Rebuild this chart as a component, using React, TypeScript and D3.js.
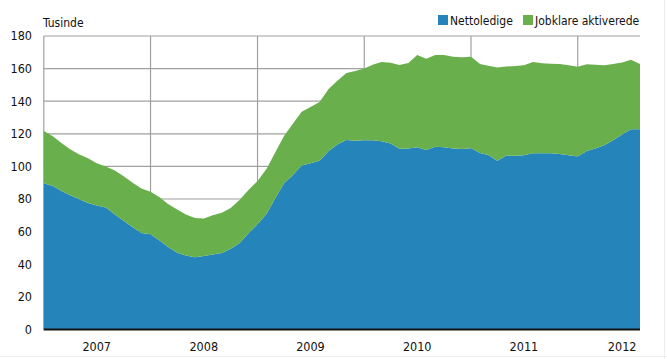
import React from "react";
import * as d3 from "d3";

const nettoledige = [
  89.6, 88, 85, 82.3, 80, 77.5, 76, 74.8, 70.5, 66.6, 62.7, 59.2,
  58.3, 54.5, 50.5, 47, 45.3, 44.2, 45, 46, 46.8, 49.5, 53, 59,
  64.5, 71, 80, 89.5, 94.5, 100.5, 102, 103.5, 109.5, 113.5, 116.2, 115.8,
  116, 116, 115.5, 114, 110.8, 111, 111.8, 110, 112, 111.7, 111, 110.6,
  111.2, 108.2, 107, 103.5, 106.6, 106.5, 106.8, 108, 108, 108, 107.6, 106.8,
  106, 109.4, 111, 113, 116, 119.5, 122.8, 122.8,
];

const total = [
  121.7, 118.5, 114.5, 110.5, 107.5, 105, 102, 100, 97.5, 94, 90, 86.5,
  84.5, 81, 77, 73.5, 70.5, 68.3, 68, 70, 71.5, 74.5, 79.5, 85.5,
  91, 98.5, 108, 118.5, 126, 133.5, 136.5, 139.5, 147.5, 152.5, 157.3, 158.5,
  160, 162.5, 164, 163.6, 162.2, 163.5, 168.3, 166.1, 168.3, 168.3, 167.3, 167,
  167.3, 162.8, 161.8, 160.7, 161.3, 161.6, 162, 164, 163.3, 163, 162.8, 162,
  161.2, 162.6, 162.3, 162, 162.8, 163.8, 165.5, 162.8,
];

const jobklare = total.map((t, i) => +(t - nettoledige[i]).toFixed(1));

const months = d3.timeMonth.range(new Date(2007, 0, 1), new Date(2007, 0 + nettoledige.length, 1));

const yTicks = [0, 20, 40, 60, 80, 100, 120, 140, 160, 180];
const yearGrid = [2008, 2009, 2010, 2011, 2012];
const yearLabels = ["2007", "2008", "2009", "2010", "2011", "2012"];
const yearLabelMonths = [6, 6, 6, 6, 6, 5];

const seriesNames = ["Nettoledige", "Jobklare aktiverede"];
const colors = ["#2584BA", "#69B04C"];

const W = 667;
const H = 359;
const left = 43.8;
const right = 640;
const top = 36;
const bottom = 329.4;
const FONT = "'DejaVu Sans Condensed', 'Liberation Sans Narrow', sans-serif";

export default function App() {
  const x = d3.scaleTime().domain([months[0], months[months.length - 1]]).range([left, right]);
  const y = d3.scaleLinear().domain([0, 180]).range([bottom, top]);

  const rows = months.map((m, i) => ({ date: m, a: nettoledige[i], b: jobklare[i] }));
  const stack = d3.stack<any>().keys(["a", "b"]);
  const stacked = stack(rows);
  const area = d3
    .area<any>()
    .x((d) => x(d.data.date))
    .y0((d) => y(d[0]))
    .y1((d) => y(d[1]));

  return (
    <svg width={W} height={H} style={{ position: "absolute", left: 0, top: 0, fontFamily: FONT }}>
      <rect x={0} y={0} width={W} height={H} fill="#fff" />
      <line x1={0} x2={W} y1={H - 2.5} y2={H - 2.5} stroke="#eeeeee" />
      <line x1={W - 2.5} x2={W - 2.5} y1={0} y2={H} stroke="#eeeeee" />
      {yTicks.map((t) => (
        <line key={"h" + t} x1={left} x2={right} y1={y(t)} y2={y(t)} stroke="#a0a0a0" strokeWidth={1.2} />
      ))}
      {yearGrid.map((yr) => (
        <line key={"v" + yr} x1={x(new Date(yr, 0, 1))} x2={x(new Date(yr, 0, 1))} y1={top} y2={bottom} stroke="#a0a0a0" strokeWidth={1.2} />
      ))}
      <line x1={left} x2={left} y1={top} y2={bottom} stroke="#a0a0a0" strokeWidth={1.2} />
      {stacked.map((s, i) => (
        <path key={i} d={area(s) || ""} fill={colors[i]} />
      ))}
      <line x1={left} x2={right} y1={bottom} y2={bottom} stroke="#111" strokeWidth={2} />
      {yTicks.map((t) => (
        <text key={"t" + t} x={32} y={y(t)} dy="0.35em" textAnchor="end" fontSize={12.5} fill="#111">
          {t}
        </text>
      ))}
      {yearLabels.map((lab, i) => (
        <text key={lab} x={x(new Date(+lab, yearLabelMonths[i], 1))} y={351} textAnchor="middle" fontSize={12.5} fill="#111">
          {lab}
        </text>
      ))}
      <text x={43} y={27} fontSize={12} fill="#111">Tusinde</text>
      <rect x={438} y={15} width={10} height={10} fill={colors[0]} />
      <text x={450} y={25} fontSize={12} fill="#111">{seriesNames[0]}</text>
      <rect x={523} y={15} width={10} height={10} fill={colors[1]} />
      <text x={535} y={25} fontSize={12} fill="#111">{seriesNames[1]}</text>
    </svg>
  );
}
